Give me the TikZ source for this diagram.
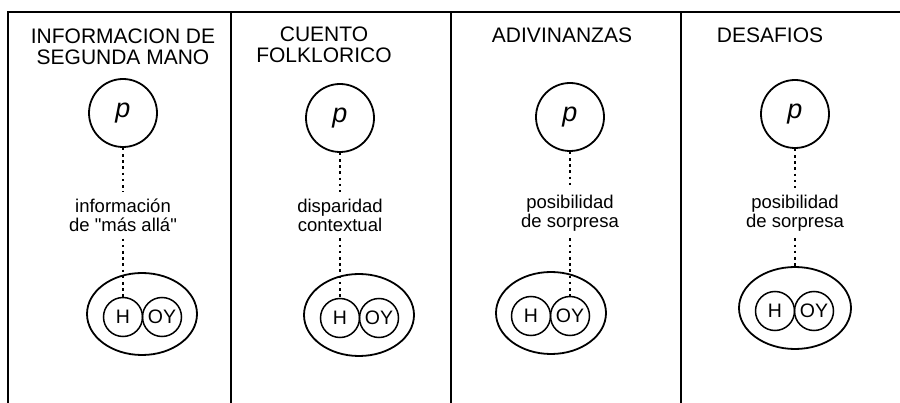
\documentclass[tikz,border=0pt]{standalone}
\usepackage{fontspec}
\setmainfont{Liberation Sans}
\usetikzlibrary{shapes.geometric}

\begin{document}
\begin{tikzpicture}[x=1pt, y=-1pt,
  ttl/.style={align=center, font=\fontsize{21}{21}\selectfont, inner sep=0pt},
  prop/.style={draw, circle, line width=1.8pt, minimum size=68pt, inner sep=0pt, font=\fontsize{27}{27}\selectfont\itshape},
  lbl/.style={align=center, font=\fontsize{18.5}{19}\selectfont, inner xsep=2pt, inner ysep=7pt},
  ctx/.style={draw, ellipse, line width=1.8pt, minimum width=110pt, minimum height=82pt, inner sep=0pt},
  who/.style={draw, circle, line width=1.5pt, minimum size=39pt, inner sep=0pt, font=\fontsize{19.5}{19.5}\selectfont},
  link/.style={line width=1.6pt, dash pattern=on 2.6pt off 3.6pt}]
  \useasboundingbox (0,0) rectangle (900,403);
  % frame: four columns, open at the bottom and on the right
  \draw[line width=1.8pt] (8,403) -- (8,12) -- (900,12);
  \draw[line width=1.8pt] (231,12) -- (231,403);
  \draw[line width=1.8pt] (451,12) -- (451,403);
  \draw[line width=1.8pt] (681,12) -- (681,403);
  % column 1
  \node[ttl]  (ttl1) at (123,47)  {INFORMACION DE\\SEGUNDA MANO};
  \node[prop] (p1)   at (123,113) {p};
  \node[lbl]  (lbl1) at (123,215) {información\\de \textquotedbl más allá\textquotedbl};
  \node[ctx]  (ell1) at (142,314) {};
  \node[who]  (h1)   at (123,317) {H};
  \node[who]  (oy1)  at (162,317) {OY};
  % column 2
  \node[ttl]  (ttl2) at (324,45)  {CUENTO\\FOLKLORICO};
  \node[prop] (p2)   at (340,118) {p};
  \node[lbl]  (lbl2) at (340,215) {disparidad\\contextual};
  \node[ctx]  (ell2) at (359,315) {};
  \node[who]  (h2)   at (340,318) {H};
  \node[who]  (oy2)  at (379,318) {OY};
  % column 3
  \node[ttl]  (ttl3) at (562,35)  {ADIVINANZAS};
  \node[prop] (p3)   at (570,117) {p};
  \node[lbl]  (lbl3) at (570,213) {posibilidad\\de sorpresa};
  \node[ctx]  (ell3) at (551,313) {};
  \node[who]  (h3)   at (531,316) {H};
  \node[who]  (oy3)  at (570,316) {OY};
  % column 4
  \node[ttl]  (ttl4) at (770,35)  {DESAFIOS};
  \node[prop] (p4)   at (795,114) {p};
  \node[lbl]  (lbl4) at (795,213) {posibilidad\\de sorpresa};
  \node[ctx, minimum width=112pt] (ell4) at (795,308) {};
  \node[who]  (h4)   at (775,311) {H};
  \node[who]  (oy4)  at (814,311) {OY};
  % dotted links
  \draw[link] (p1) -- (lbl1);
  \draw[link] (lbl1) -- (h1);
  \draw[link] (p2) -- (lbl2);
  \draw[link] (lbl2) -- (h2);
  \draw[link] (p3) -- (lbl3);
  \draw[link] (lbl3) -- (oy3);
  \draw[link] (p4) -- (lbl4);
  \draw[link] (lbl4) -- (ell4);
\end{tikzpicture}
\end{document}
